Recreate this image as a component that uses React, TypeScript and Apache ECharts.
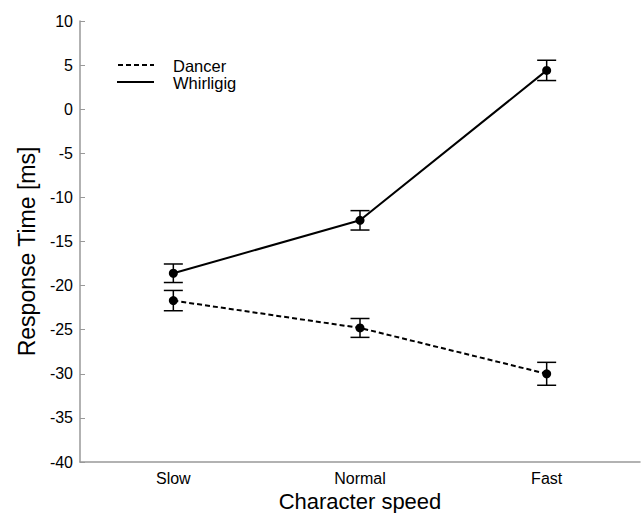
import React, { useEffect, useRef } from "react";
import * as echarts from "echarts";

const categories = ["Slow", "Normal", "Fast"];
const dancerMean = [-21.7, -24.8, -30.0];
const dancerErr = [1.15, 1.07, 1.3];
const whirligigMean = [-18.6, -12.6, 4.4];
const whirligigErr = [1.05, 1.1, 1.15];
const yMin = -40;
const yMax = 10;
const yInterval = 5;
const xTitle = "Character speed";
const yTitle = "Response Time [ms]";
const seriesNames = ["Dancer", "Whirligig"];

const FONT = "'Liberation Sans', Arial, Helvetica, sans-serif";

function errorSeries(means: number[], errs: number[]) {
  return {
    type: "custom",
    silent: true,
    z: 3,
    data: means.map((m, i) => [i, m - errs[i], m + errs[i]]),
    renderItem: (params: any, api: any) => {
      const x = api.value(0);
      const lo = api.coord([x, api.value(1)]);
      const hi = api.coord([x, api.value(2)]);
      const hw = 9.5;
      const style = { stroke: "#000", lineWidth: 1.5, fill: "none" };
      return {
        type: "group",
        children: [
          { type: "line", shape: { x1: lo[0], y1: lo[1], x2: hi[0], y2: hi[1] }, style },
          { type: "line", shape: { x1: lo[0] - hw, y1: lo[1], x2: lo[0] + hw, y2: lo[1] }, style },
          { type: "line", shape: { x1: hi[0] - hw, y1: hi[1], x2: hi[0] + hw, y2: hi[1] }, style },
        ],
      };
    },
  };
}

export default function App() {
  const ref = useRef<HTMLDivElement>(null);
  useEffect(() => {
    document.body.style.margin = "0";
    const chart = echarts.init(ref.current!, undefined, { renderer: "svg" });
    chart.setOption({
      animation: false,
      backgroundColor: "#fff",
      textStyle: { fontFamily: FONT },
      grid: { left: 80, right: 2, top: 21, bottom: 51, containLabel: false, outerBoundsMode: "none" },
      xAxis: {
        type: "category",
        data: categories,
        boundaryGap: true,
        name: xTitle,
        nameLocation: "middle",
        nameGap: 23,
        nameTextStyle: { fontSize: 22, lineHeight: 22, color: "#000", fontFamily: FONT },
        axisLine: { onZero: false, lineStyle: { color: "#999", width: 1.5 } },
        axisTick: { inside: true, length: 5, alignWithLabel: true, lineStyle: { color: "#999", width: 1 } },
        axisLabel: { fontSize: 16, color: "#000", margin: 8, fontFamily: FONT },
        splitLine: { show: false },
      },
      yAxis: {
        type: "value",
        min: yMin,
        max: yMax,
        interval: yInterval,
        name: yTitle,
        nameLocation: "middle",
        nameGap: 41,
        nameTextStyle: { fontSize: 23, color: "#000", fontFamily: FONT, padding: [0, 20, 0, 0] },
        axisLine: { show: true, lineStyle: { color: "#999", width: 1.5 } },
        axisTick: { show: true, inside: true, length: 5, lineStyle: { color: "#999", width: 1 } },
        axisLabel: { fontSize: 16, color: "#000", margin: 7, fontFamily: FONT },
        splitLine: { show: false },
      },
      graphic: [
        {
          type: "line",
          shape: { x1: 118, y1: 65, x2: 154, y2: 65 },
          style: { stroke: "#000", lineWidth: 2, lineDash: [5, 3] },
        },
        {
          type: "line",
          shape: { x1: 117, y1: 82, x2: 154, y2: 82 },
          style: { stroke: "#000", lineWidth: 2 },
        },
        {
          type: "text",
          x: 173,
          y: 66,
          style: { text: seriesNames[0], fill: "#000", font: `16.5px ${FONT}`, verticalAlign: "middle" },
        },
        {
          type: "text",
          x: 173,
          y: 83,
          style: { text: seriesNames[1], fill: "#000", font: `16.5px ${FONT}`, verticalAlign: "middle" },
        },
      ],
      series: [
        {
          name: seriesNames[0],
          type: "line",
          data: dancerMean,
          symbol: "circle",
          symbolSize: 9,
          itemStyle: { color: "#000" },
          lineStyle: { color: "#000", width: 2, type: [5, 3] },
          z: 4,
        },
        {
          name: seriesNames[1],
          type: "line",
          data: whirligigMean,
          symbol: "circle",
          symbolSize: 9,
          itemStyle: { color: "#000" },
          lineStyle: { color: "#000", width: 2 },
          z: 4,
        },
        errorSeries(dancerMean, dancerErr),
        errorSeries(whirligigMean, whirligigErr),
      ],
    });
    return () => chart.dispose();
  }, []);
  return <div ref={ref} style={{ width: 642, height: 513 }} />;
}
